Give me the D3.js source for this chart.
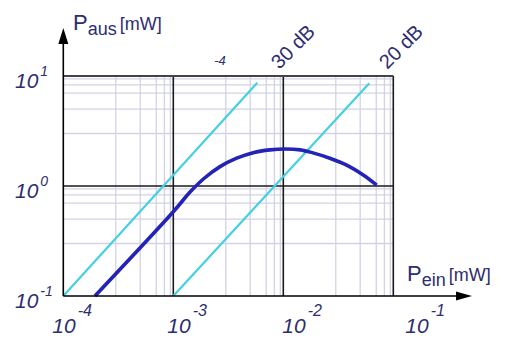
<!DOCTYPE html>
<meta charset="utf-8">
<head>
    <title></title>
    <script src="https://cdn.jsdelivr.net/npm/d3@7/dist/d3.min.js"></script>
</head>

<style>
    body{
      margin:0;
      background:#fff;
    }
    text{
      font-family: "Liberation Sans", Arial, sans-serif;
      fill:#2d2d70;
    }
    .tick{
      font-style: italic;
    }
</style>
<svg width="507" height="338"></svg>

<script>
    // amplifier curve, P_ein -> P_aus in mW
    var pin  = [1.94e-4, 1.0e-3, 1.42e-3, 1.9e-3, 2.66e-3, 3.77e-3, 5.33e-3, 7.57e-3, 1.04e-2, 1.43e-2, 1.86e-2, 2.65e-2, 3.77e-2, 5.33e-2, 7.06e-2];
    var pout = [0.1, 0.583, 0.881, 1.17, 1.50, 1.79, 2.01, 2.13, 2.17, 2.13, 2.00, 1.79, 1.55, 1.26, 1.02];

    // gain lines
    var gain30Pin  = [1e-4, 5.8e-3],
        gain30Pout = [0.1, 8.7],
        gain20Pin  = [1e-3, 6.05e-2],
        gain20Pout = [0.1, 8.6];

    var xTicks = [1e-4, 1e-3, 1e-2, 1e-1],
        xExp = ['-4', '-3', '-2', '-1'],
        yTicks = [1e-1, 1, 10],
        yExp = ['-1', '0', '1'],
        minorSteps = [3, 5, 7, 8.3, 9.4];

    var gainLabels = ['30 dB', '20 dB'];

    var svg = d3.select('svg');

    var x = d3.scaleLog().domain([1e-4, 1e-1]).range([63.3, 393.3]),
        y = d3.scaleLog().domain([1e-1, 10]).range([296, 76]);

    // minor grid
    var minorX = [], minorY = [];
    xTicks.slice(0, -1).forEach(function(d){
        minorSteps.forEach(function(m){ minorX.push(d*m); });
    });
    yTicks.slice(0, -1).forEach(function(d){
        minorSteps.forEach(function(m){ minorY.push(d*m); });
    });

    var grid = svg.append('g').attr('stroke', '#d2d2e6').attr('stroke-width', 1.3);
    grid.selectAll('.mx').data(minorX).enter().append('line')
        .attr('x1', x).attr('x2', x)
        .attr('y1', y(10)).attr('y2', y(0.1));
    grid.selectAll('.my').data(minorY).enter().append('line')
        .attr('y1', y).attr('y2', y)
        .attr('x1', x(1e-4)).attr('x2', x(1e-1));

    // decade lines
    var major = svg.append('g').attr('stroke', '#1a1a1a').attr('stroke-width', 1.6);
    major.selectAll('.vx').data(xTicks.slice(1)).enter().append('line')
        .attr('x1', x).attr('x2', x)
        .attr('y1', y(10)).attr('y2', y(0.1));
    major.selectAll('.hy').data(yTicks.slice(1, -1)).enter().append('line')
        .attr('y1', y).attr('y2', y)
        .attr('x1', x(1e-4)).attr('x2', x(1e-1));
    major.append('line')
        .attr('x1', x(1e-4)).attr('x2', x(1e-1))
        .attr('y1', y(10)).attr('y2', y(10))
        .attr('stroke', '#444').attr('stroke-width', 2);

    // gain lines
    var line = d3.line()
        .x(function(d){ return x(d[0]); })
        .y(function(d){ return y(d[1]); });

    svg.append('path')
        .datum(d3.zip(gain30Pin, gain30Pout))
        .attr('d', line)
        .attr('fill', 'none').attr('stroke', '#44d0e2').attr('stroke-width', 2.2);
    svg.append('path')
        .datum(d3.zip(gain20Pin, gain20Pout))
        .attr('d', line)
        .attr('fill', 'none').attr('stroke', '#44d0e2').attr('stroke-width', 2.2);

    // amplifier curve
    svg.append('path')
        .datum(d3.zip(pin, pout))
        .attr('d', line.curve(d3.curveCatmullRom.alpha(0.5)))
        .attr('fill', 'none').attr('stroke', '#2323b8').attr('stroke-width', 3.6);

    // axes with arrows
    var axes = svg.append('g').attr('stroke', '#000').attr('stroke-width', 1.6);
    axes.append('line')
        .attr('x1', x(1e-4)).attr('x2', x(1e-4))
        .attr('y1', y(0.1)).attr('y2', 40);
    axes.append('line')
        .attr('x1', x(1e-4)).attr('x2', 460)
        .attr('y1', y(0.1)).attr('y2', y(0.1));
    svg.append('path')
        .attr('d', 'M' + x(1e-4) + ',28L' + (x(1e-4) - 5) + ',44L' + (x(1e-4) + 5) + ',44Z')
        .attr('fill', '#000');
    svg.append('path')
        .attr('d', 'M472,' + y(0.1) + 'L456,' + (y(0.1) - 4.5) + 'L456,' + (y(0.1) + 4.5) + 'Z')
        .attr('fill', '#000');

    // y tick labels
    var yl = svg.selectAll('.yl').data(yTicks).enter().append('text')
        .attr('class', 'tick')
        .attr('x', 15)
        .attr('y', function(d){ return y(d) + 12; })
        .style('font-size', '21px');
    yl.append('tspan').text('10');
    yl.append('tspan')
        .attr('dx', 2).attr('dy', -12)
        .style('font-size', '14px')
        .text(function(d, i){ return yExp[i]; });

    // x tick labels
    var xNudge = [-11, -6, -1, 12];
    var xl = svg.selectAll('.xl').data(xTicks).enter().append('text')
        .attr('class', 'tick')
        .attr('x', function(d, i){ return x(d) + xNudge[i]; })
        .attr('y', 333)
        .style('font-size', '21px');
    xl.append('tspan').text('10');
    xl.append('tspan')
        .attr('dx', 2).attr('dy', -17)
        .style('font-size', '16px')
        .text(function(d, i){ return xExp[i]; });

    // axis titles
    function title(px, py, sub){
        var t = svg.append('text').attr('x', px).attr('y', py);
        t.append('tspan').style('font-size', '22px').text('P');
        t.append('tspan').attr('dy', 5).style('font-size', '18px').text(sub);
        t.append('tspan').attr('dx', 3).attr('dy', -5).style('font-size', '18px').text('[mW]');
    }
    title(73, 30, 'aus');
    title(407, 281, 'ein');

    // gain labels
    svg.append('text')
        .attr('class', 'tick')
        .attr('x', 220).attr('y', 65)
        .attr('text-anchor', 'middle')
        .style('font-size', '13px')
        .text('-4');
    svg.selectAll('.gl').data(gainLabels).enter().append('text')
        .attr('transform', function(d, i){
            var px = i == 0 ? x(1e-2) - 4 : x(1e-1) - 6;
            return 'translate(' + px + ',70) rotate(-45)';
        })
        .style('font-size', '20px')
        .text(function(d){ return d; });
</script>
